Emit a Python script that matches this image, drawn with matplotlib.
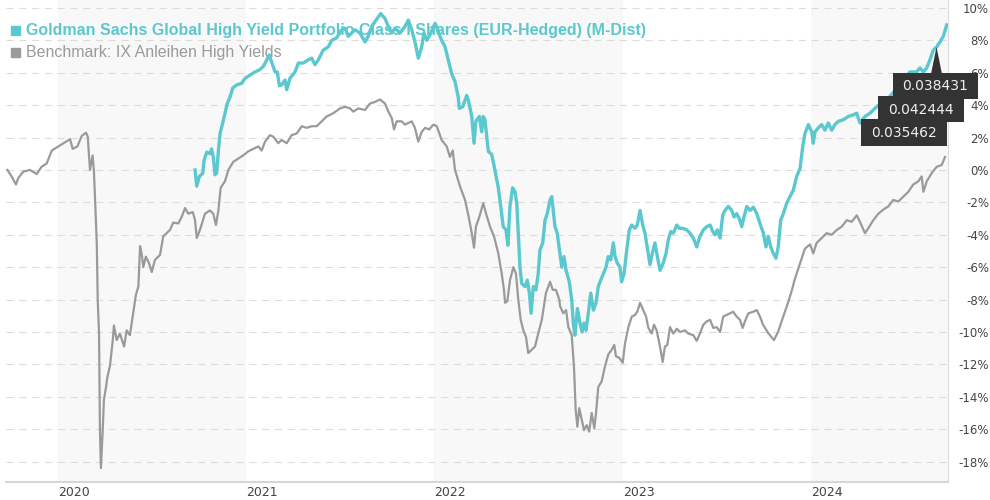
import matplotlib
matplotlib.use('Agg')
import matplotlib.pyplot as plt
from matplotlib.patches import Rectangle, Polygon

# cumulative performance in %, time as decimal year
bench_t = [2019.731, 2019.754, 2019.777, 2019.789, 2019.816, 2019.851, 2019.887, 2019.913, 2019.940, 2019.967,
           2020.002, 2020.037, 2020.064, 2020.078, 2020.103, 2020.126, 2020.149, 2020.158, 2020.170, 2020.184,
           2020.191, 2020.206, 2020.211, 2020.218, 2020.223, 2020.228, 2020.237, 2020.244, 2020.255, 2020.262,
           2020.276, 2020.291, 2020.297, 2020.312, 2020.329, 2020.351, 2020.365, 2020.382, 2020.400, 2020.414,
           2020.427, 2020.436, 2020.445, 2020.453, 2020.467, 2020.485, 2020.498, 2020.515, 2020.542, 2020.559,
           2020.595, 2020.612, 2020.639, 2020.657, 2020.675, 2020.692, 2020.716, 2020.728, 2020.737, 2020.754,
           2020.781, 2020.807, 2020.825, 2020.839, 2020.852, 2020.864, 2020.887, 2020.905, 2020.931, 2020.958,
           2020.984, 2021.011, 2021.037, 2021.064, 2021.082, 2021.100, 2021.126, 2021.144, 2021.170, 2021.188,
           2021.215, 2021.241, 2021.268, 2021.295, 2021.321, 2021.348, 2021.374, 2021.401, 2021.427, 2021.462,
           2021.498, 2021.525, 2021.551, 2021.569, 2021.595, 2021.631, 2021.657, 2021.684, 2021.711, 2021.737,
           2021.755, 2021.773, 2021.785, 2021.799, 2021.826, 2021.843, 2021.861, 2021.879, 2021.896, 2021.914,
           2021.932, 2021.950, 2021.972, 2021.994, 2022.012, 2022.038, 2022.065, 2022.082, 2022.097, 2022.109,
           2022.135, 2022.162, 2022.180, 2022.198, 2022.210, 2022.220, 2022.238, 2022.259, 2022.274, 2022.295,
           2022.316, 2022.339, 2022.357, 2022.369, 2022.375, 2022.387, 2022.401, 2022.419, 2022.433, 2022.445,
           2022.458, 2022.472, 2022.486, 2022.498, 2022.516, 2022.534, 2022.551, 2022.570, 2022.592, 2022.614,
           2022.628, 2022.645, 2022.663, 2022.667, 2022.684, 2022.699, 2022.711, 2022.729, 2022.741, 2022.750,
           2022.759, 2022.769, 2022.782, 2022.794, 2022.809, 2022.822, 2022.835, 2022.849, 2022.858, 2022.870,
           2022.888, 2022.906, 2022.923, 2022.941, 2022.955, 2022.964, 2022.982, 2023.000, 2023.012, 2023.030,
           2023.048, 2023.065, 2023.077, 2023.092, 2023.109, 2023.124, 2023.136, 2023.154, 2023.166, 2023.180,
           2023.198, 2023.212, 2023.224, 2023.237, 2023.251, 2023.269, 2023.287, 2023.304, 2023.331, 2023.348,
           2023.375, 2023.393, 2023.410, 2023.428, 2023.446, 2023.464, 2023.481, 2023.499, 2023.517, 2023.534,
           2023.552, 2023.570, 2023.587, 2023.605, 2023.623, 2023.637, 2023.649, 2023.667, 2023.694, 2023.712,
           2023.729, 2023.745, 2023.772, 2023.803, 2023.825, 2023.851, 2023.878, 2023.899, 2023.915, 2023.942,
           2023.968, 2023.995, 2024.012, 2024.030, 2024.057, 2024.083, 2024.110, 2024.137, 2024.163, 2024.190,
           2024.216, 2024.243, 2024.260, 2024.287, 2024.304, 2024.331, 2024.358, 2024.384, 2024.411, 2024.437,
           2024.464, 2024.490, 2024.517, 2024.543, 2024.570, 2024.588, 2024.597, 2024.615, 2024.641, 2024.668,
           2024.694, 2024.712]
bench_v = [0.0, -0.4, -0.9, -0.5, -0.1, 0.0, -0.25, 0.2, 0.4, 1.2,
           1.45, 1.7, 1.9, 1.3, 1.45, 2.1, 2.3, 2.05, 0.0, 0.9,
           -0.1, -4.5, -8.0, -10.1, -16.2, -18.4, -16.2, -14.2, -13.4, -12.8,
           -12.1, -10.5, -9.6, -10.5, -10.1, -10.9, -9.9, -10.2, -8.8, -7.7,
           -7.2, -4.7, -5.2, -6.0, -5.35, -5.8, -6.3, -5.55, -5.25, -4.1,
           -3.7, -3.25, -3.3, -2.9, -2.35, -2.7, -2.6, -3.1, -4.2, -3.7,
           -2.7, -2.5, -2.7, -3.4, -2.5, -1.1, -0.7, 0.0, 0.5, 0.7,
           0.9, 1.15, 1.3, 1.45, 1.2, 1.75, 2.15, 2.05, 1.65, 1.85,
           1.65, 2.15, 2.25, 2.7, 2.6, 2.7, 2.7, 3.0, 3.3, 3.5,
           3.8, 3.9, 3.8, 3.6, 3.8, 3.7, 4.1, 4.2, 4.35, 4.1,
           3.6, 3.2, 2.5, 3.0, 3.0, 2.8, 2.9, 3.0, 2.6, 1.75,
           2.35, 2.6, 2.5, 2.8, 2.7, 1.85, 1.45, 0.8, 1.2, 0.0,
           -1.0, -1.85, -2.8, -3.9, -4.8, -3.5, -2.9, -2.05, -2.7, -3.5,
           -4.1, -5.15, -6.4, -7.4, -8.2, -8.1, -6.8, -6.0, -6.4, -8.0,
           -9.25, -9.9, -10.3, -11.3, -11.1, -10.9, -10.1, -9.25, -7.6, -6.9,
           -7.4, -7.4, -8.0, -8.4, -8.85, -8.65, -9.7, -10.2, -12.15, -14.8,
           -15.85, -14.7, -15.4, -16.05, -15.75, -16.15, -15.0, -15.95, -15.0, -13.4,
           -13.05, -12.1, -11.4, -11.1, -10.8, -11.5, -11.6, -11.9, -10.7, -9.7,
           -9.05, -8.95, -8.75, -8.2, -8.65, -9.05, -9.75, -10.1, -9.55, -9.9,
           -10.9, -11.85, -10.9, -10.8, -9.7, -10.1, -9.8, -10.0, -9.9, -10.1,
           -10.2, -10.55, -10.1, -9.55, -9.35, -9.25, -9.75, -9.7, -10.0, -9.05,
           -8.95, -8.85, -8.75, -9.05, -9.25, -9.75, -9.35, -8.85, -8.75, -8.65,
           -9.05, -9.55, -10.05, -10.5, -10.0, -9.1, -8.2, -7.4, -6.7, -5.75,
           -4.85, -4.6, -5.15, -4.5, -4.2, -3.9, -4.0, -3.7, -3.5, -3.1,
           -3.2, -2.8, -3.2, -3.9, -3.6, -3.1, -2.7, -2.45, -2.25, -1.85,
           -1.95, -1.65, -1.35, -0.9, -0.7, -0.4, -1.35, -0.7, -0.2, 0.2,
           0.3, 0.8]

fund_t = [2020.728, 2020.737, 2020.751, 2020.769, 2020.776, 2020.790, 2020.807, 2020.816, 2020.825, 2020.834,
          2020.843, 2020.852, 2020.861, 2020.875, 2020.887, 2020.899, 2020.914, 2020.928, 2020.949, 2020.976,
          2020.993, 2021.020, 2021.046, 2021.073, 2021.091, 2021.105, 2021.122, 2021.140, 2021.153, 2021.165,
          2021.176, 2021.188, 2021.206, 2021.215, 2021.232, 2021.259, 2021.277, 2021.303, 2021.330, 2021.348,
          2021.365, 2021.383, 2021.409, 2021.436, 2021.454, 2021.480, 2021.507, 2021.525, 2021.542, 2021.560,
          2021.578, 2021.604, 2021.631, 2021.648, 2021.666, 2021.693, 2021.714, 2021.737, 2021.755, 2021.773,
          2021.790, 2021.817, 2021.843, 2021.861, 2021.879, 2021.896, 2021.914, 2021.932, 2021.944, 2021.959,
          2021.976, 2022.003, 2022.020, 2022.038, 2022.056, 2022.073, 2022.091, 2022.109, 2022.126, 2022.132,
          2022.150, 2022.162, 2022.171, 2022.180, 2022.198, 2022.210, 2022.220, 2022.238, 2022.251, 2022.259,
          2022.268, 2022.286, 2022.304, 2022.321, 2022.339, 2022.352, 2022.365, 2022.380, 2022.390, 2022.401,
          2022.415, 2022.428, 2022.437, 2022.445, 2022.454, 2022.463, 2022.481, 2022.493, 2022.504, 2022.513,
          2022.525, 2022.539, 2022.551, 2022.560, 2022.575, 2022.587, 2022.599, 2022.614, 2022.623, 2022.631,
          2022.640, 2022.652, 2022.663, 2022.676, 2022.688, 2022.699, 2022.716, 2022.729, 2022.737, 2022.746,
          2022.759, 2022.773, 2022.784, 2022.794, 2022.805, 2022.817, 2022.830, 2022.844, 2022.858, 2022.870,
          2022.883, 2022.897, 2022.911, 2022.923, 2022.936, 2022.950, 2022.959, 2022.971, 2022.985, 2022.994,
          2023.007, 2023.021, 2023.035, 2023.048, 2023.065, 2023.077, 2023.092, 2023.106, 2023.118, 2023.130,
          2023.145, 2023.159, 2023.171, 2023.184, 2023.198, 2023.215, 2023.230, 2023.242, 2023.255, 2023.269,
          2023.287, 2023.300, 2023.318, 2023.340, 2023.357, 2023.375, 2023.393, 2023.410, 2023.428, 2023.446,
          2023.464, 2023.478, 2023.490, 2023.502, 2023.517, 2023.531, 2023.543, 2023.561, 2023.579, 2023.591,
          2023.605, 2023.619, 2023.632, 2023.644, 2023.659, 2023.676, 2023.694, 2023.712, 2023.729, 2023.747,
          2023.761, 2023.773, 2023.786, 2023.800, 2023.814, 2023.826, 2023.839, 2023.853, 2023.871, 2023.888,
          2023.906, 2023.924, 2023.942, 2023.956, 2023.968, 2023.986, 2024.004, 2024.012, 2024.021, 2024.039,
          2024.057, 2024.074, 2024.092, 2024.110, 2024.127, 2024.145, 2024.172, 2024.198, 2024.225, 2024.243,
          2024.260, 2024.287, 2024.313, 2024.349, 2024.377, 2024.409, 2024.446, 2024.464, 2024.499, 2024.526,
          2024.561, 2024.579, 2024.597, 2024.615, 2024.632, 2024.650, 2024.668, 2024.685, 2024.703, 2024.721]
fund_v = [0.0, -1.0, -0.4, -0.2, 0.6, 1.1, 1.0, 1.3, 0.8, -0.3,
          -0.2, 1.2, 2.25, 2.9, 3.5, 4.1, 4.5, 5.05, 5.25, 5.35,
          5.65, 5.85, 6.05, 6.2, 6.4, 6.7, 7.1, 6.5, 6.05, 6.05,
          5.2, 5.25, 5.55, 4.95, 5.65, 6.05, 6.6, 6.6, 6.8, 6.9,
          6.5, 6.8, 7.4, 7.6, 8.0, 8.15, 8.65, 8.75, 8.25, 8.45,
          8.65, 8.45, 7.9, 8.25, 8.85, 9.3, 9.65, 9.35, 8.85, 8.45,
          8.75, 8.45, 8.85, 9.25, 8.65, 7.9, 6.9, 7.6, 8.45, 8.0,
          8.35, 9.05, 8.55, 8.0, 7.6, 6.8, 5.95, 5.45, 4.5, 3.8,
          3.9, 4.3, 4.6, 4.3, 3.3, 1.65, 3.0, 3.3, 2.35, 3.3,
          3.1, 1.15, 0.95, 0.0, -1.1, -2.25, -3.5, -3.7, -4.65, -2.25,
          -1.1, -1.35, -2.05, -3.9, -6.0, -7.0, -7.2, -6.8, -7.6, -8.85,
          -7.2, -7.4, -6.4, -4.95, -4.5, -3.1, -2.7, -1.85, -1.65, -2.5,
          -3.5, -3.9, -4.85, -6.0, -5.35, -6.2, -6.9, -8.0, -9.45, -10.2,
          -8.55, -9.45, -10.0, -9.45, -9.9, -8.85, -7.6, -8.65, -8.2, -7.2,
          -6.8, -6.4, -6.0, -5.35, -5.55, -4.5, -5.35, -5.75, -6.0, -6.9,
          -6.4, -4.95, -3.7, -3.4, -3.6, -3.4, -2.5, -3.4, -3.9, -4.75,
          -5.85, -5.05, -4.5, -5.35, -6.2, -5.75, -5.15, -4.3, -3.8, -3.9,
          -3.4, -3.6, -3.6, -3.7, -3.9, -4.2, -4.75, -4.1, -3.7, -3.5,
          -3.4, -3.8, -4.0, -3.7, -4.2, -2.8, -2.5, -2.25, -2.5, -2.9,
          -2.7, -3.0, -3.5, -2.9, -2.25, -2.5, -2.3, -2.7, -3.3, -3.9,
          -4.75, -4.1, -4.75, -5.15, -5.45, -4.75, -3.1, -2.7, -2.05, -1.65,
          -1.25, -0.4, 0.1, 1.45, 2.25, 2.8, 2.35, 1.65, 2.35, 2.6,
          2.8, 2.45, 2.9, 2.45, 2.8, 3.0, 3.1, 3.3, 3.4, 3.5,
          2.9, 3.3, 3.5, 3.9, 4.2, 4.4, 4.9, 5.3, 5.7, 6.05,
          6.05, 6.3, 6.05, 6.3, 6.8, 7.4, 7.6, 7.9, 8.25, 8.95]

years = [2020, 2021, 2022, 2023, 2024]
shaded_years = [2020, 2022, 2024]
y_ticks = list(range(-18, 11, 2))
tooltip_values = ['0.038431', '0.042444', '0.035462']
fund_name = 'Goldman Sachs Global High Yield Portfolio Class I Shares (EUR-Hedged) (M-Dist)'
bench_name = 'Benchmark: IX Anleihen High Yields'

TEAL = '#5bc8cf'
GREY = '#9a9a9a'

fig = plt.figure(figsize=(9.9, 5.0), dpi=100)

# overlay in pixel coords, for legend and tooltips
over = fig.add_axes([0, 0, 1, 1], zorder=5)
over.set_xlim(0, 990)
over.set_ylim(500, 0)
over.axis('off')

ax = fig.add_axes([6 / 990, 18 / 500, 942 / 990, 482 / 500], zorder=1)
ax.set_xlim(2019.7238, 2024.7278)
ax.set_ylim(-19.26, 10.49)

for y in shaded_years:
    ax.axvspan(y, y + 1, color='#f8f8f8', zorder=0, lw=0)

ax.set_axisbelow(True)
ax.yaxis.grid(True, color='#dcdcdc', linestyle=(0, (6.5, 5)), linewidth=0.8)
ax.xaxis.grid(False)

ax.plot(bench_t, bench_v, color=GREY, lw=1.6, zorder=3, solid_joinstyle='round')
ax.plot(fund_t, fund_v, color=TEAL, lw=2.4, zorder=4, solid_joinstyle='round')

for s in ['left', 'top']:
    ax.spines[s].set_visible(False)
ax.spines['bottom'].set_color('#d6d6d6')
ax.spines['bottom'].set_linewidth(1.5)
ax.spines['right'].set_color('#dcdcdc')
ax.spines['right'].set_linewidth(0.8)

ax.set_xticks(years)
ax.set_xticklabels([str(y) for y in years], ha='left')
ax.tick_params(axis='x', length=0, pad=3, labelsize=9, labelcolor='#444444')

ax.yaxis.tick_right()
ax.set_yticks(y_ticks)
ax.set_yticklabels([f'{v}%' for v in y_ticks])
ax.tick_params(axis='y', length=0, pad=29.5, labelsize=8.5, labelcolor='#444444')
for lab in ax.get_yticklabels():
    lab.set_ha('right')

# legend (under the lines)
over.add_patch(Rectangle((10.5, 25.5), 9, 9, color=TEAL))
over.add_patch(Rectangle((10.5, 47.5), 9, 9, color=GREY))
ax.text(26, 30.5, fund_name, transform=over.transData, color=TEAL, fontweight='bold',
        fontsize=11.5, family='Liberation Sans', va='center', zorder=2.5)
ax.text(26, 52.5, bench_name, transform=over.transData, color=GREY,
        fontsize=11.5, family='Liberation Sans', va='center', zorder=2.5)

# tooltips
boxes = [(893, 73, 978, 99), (878, 96, 964, 122), (861, 119, 947, 146)]
over.add_patch(Polygon([(931, 74), (942, 74), (936.5, 47)], closed=True, color='#333333', lw=0))
for (x0, y0, x1, y1), txt in zip(boxes, tooltip_values):
    over.add_patch(Rectangle((x0, y0), x1 - x0, y1 - y0, color='#333333', lw=0))
    over.text((x0 + x1) / 2, (y0 + y1) / 2 + 0.5, txt, color='#eeeeee', fontsize=10,
              ha='center', va='center')

fig.savefig('out.png', dpi=100, facecolor='white')
